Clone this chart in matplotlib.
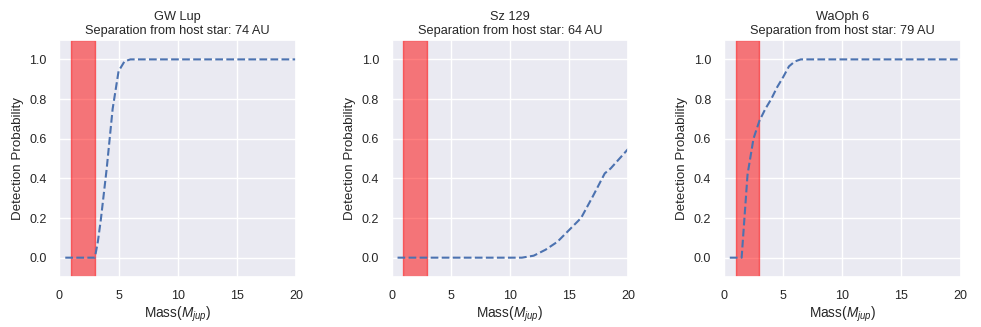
import matplotlib
matplotlib.use("Agg")
import matplotlib.pyplot as plt
import seaborn as sns

sns.set_theme(style="darkgrid")
plt.rcParams['font.family'] = ['Liberation Sans', 'DejaVu Sans']
plt.rcParams['mathtext.fontset'] = 'custom'
plt.rcParams['mathtext.rm'] = 'Liberation Sans'
plt.rcParams['mathtext.it'] = 'Liberation Sans:italic'

names = ["GW Lup", "Sz 129", "WaOph 6"]
separations = [74, 64, 79]

gw_mass = [0.5, 1, 2, 3, 3.25, 3.5, 4, 4.5, 5, 5.5, 6, 7, 8, 10, 12, 14, 16, 18, 20]
gw_prob = [0, 0, 0, 0, 0.08, 0.19, 0.45, 0.75, 0.94, 0.99, 1.0, 1.0, 1.0, 1.0, 1.0, 1.0, 1.0, 1.0, 1.0]

sz_mass = [0.5, 2, 4, 6, 8, 10, 11, 12, 13, 14, 15, 16, 17, 18, 18.5, 20]
sz_prob = [0, 0, 0, 0, 0, 0, 0, 0.01, 0.04, 0.08, 0.14, 0.2, 0.31, 0.425, 0.45, 0.55]

wa_mass = [0.5, 1, 1.5, 2, 2.5, 3, 3.5, 4, 4.5, 5, 5.5, 6, 6.5, 8, 10, 12, 14, 16, 18, 20]
wa_prob = [0, 0, 0, 0.42, 0.6, 0.69, 0.75, 0.8, 0.86, 0.91, 0.965, 0.99, 1.0, 1.0, 1.0, 1.0, 1.0, 1.0, 1.0, 1.0]

masses = [gw_mass, sz_mass, wa_mass]
probs = [gw_prob, sz_prob, wa_prob]

span_lo, span_hi = 1, 3
x_ticks = [0, 5, 10, 15, 20]
y_ticks = [0.0, 0.2, 0.4, 0.6, 0.8, 1.0]

fig, axes = plt.subplots(1, 3, figsize=(9.81, 3.27), dpi=100)
fig.subplots_adjust(left=0.0605, right=0.9793, bottom=0.1514, top=0.879, wspace=0.403)

for ax, name, sep, m, p in zip(axes, names, separations, masses, probs):
    ax.axvspan(span_lo, span_hi, color='red', alpha=0.5)
    ax.plot(m, p, linestyle='--', color='#4C72B0', linewidth=1.5)
    ax.set_xlim(0, 20)
    ax.set_ylim(-0.1, 1.1)
    ax.set_xticks(x_ticks)
    ax.set_yticks(y_ticks)
    ax.tick_params(labelsize=9, pad=3)
    ax.set_title(f"{name}\nSeparation from host star: {sep} AU", fontsize=9.2, pad=4)
    ax.set_xlabel("Mass($M_{jup}$)", fontsize=9.8, labelpad=2)
    ax.set_ylabel("Detection Probability", fontsize=9.6)

fig.savefig("out.png", dpi=100)
